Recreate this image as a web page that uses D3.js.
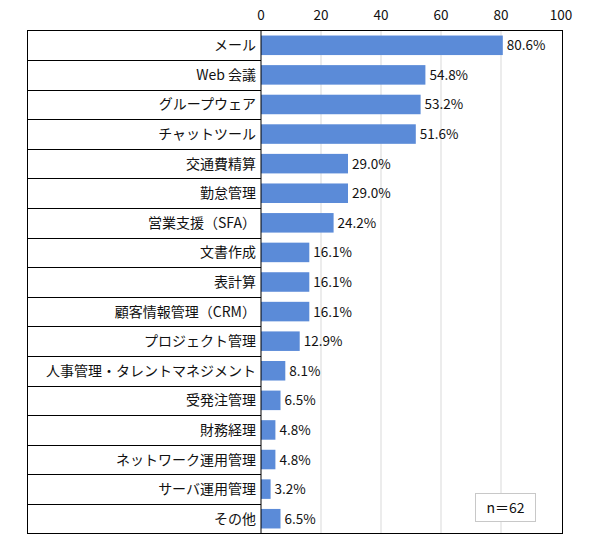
<!DOCTYPE html>
<html>
<head>
<meta charset="utf-8">
<script src="https://cdn.jsdelivr.net/npm/d3@7"></script>
<style>
  body { margin: 0; background: #fff; }
  text { font-family: "Noto Sans CJK JP", "Noto Sans", sans-serif; fill: #111; }
</style>
</head>
<body>
<div id="chart"></div>
<script>
// Data
const categories = [
  "メール", "Web 会議", "グループウェア", "チャットツール", "交通費精算",
  "勤怠管理", "営業支援（SFA）", "文書作成", "表計算", "顧客情報管理（CRM）",
  "プロジェクト管理", "人事管理・タレントマネジメント", "受発注管理", "財務経理",
  "ネットワーク運用管理", "サーバ運用管理", "その他"
];
const values = [80.6, 54.8, 53.2, 51.6, 29.0, 29.0, 24.2, 16.1, 16.1, 16.1,
  12.9, 8.1, 6.5, 4.8, 4.8, 3.2, 6.5];
const ticks = [0, 20, 40, 60, 80, 100];
const sampleNote = "n＝62";

// Layout
const width = 590, height = 549;
const tableLeft = 27.5;
const plotLeft = 261, plotRight = 562.5;
const plotTop = 30.5, plotBottom = 533.5;
const barColor = "#5b8bd8";

const svg = d3.select("#chart").append("svg")
  .attr("width", width)
  .attr("height", height);

const x = d3.scaleLinear().domain([0, 100]).range([plotLeft, plotRight - 1.5]);
const y = d3.scaleBand().domain(categories).range([plotTop, plotBottom]).paddingInner(0.34).paddingOuter(0.17);
const rowY = d3.scaleBand().domain(categories).range([plotTop, plotBottom]);

// vertical gridlines
svg.append("g")
  .selectAll("line")
  .data(ticks.slice(1, -1))
  .join("line")
  .attr("x1", d => x(d)).attr("x2", d => x(d))
  .attr("y1", plotTop).attr("y2", plotBottom)
  .attr("stroke", "#d9d9d9")
  .attr("stroke-width", 1);

// top axis tick labels
svg.append("g")
  .selectAll("text")
  .data(ticks)
  .join("text")
  .attr("x", d => x(d))
  .attr("y", 20)
  .attr("text-anchor", "middle")
  .style("font-size", "13.5px")
  .text(d => d);

// bars
svg.append("g")
  .selectAll("rect")
  .data(values)
  .join("rect")
  .attr("x", x(0))
  .attr("y", (d, i) => y(categories[i]))
  .attr("width", d => x(d) - x(0))
  .attr("height", y.bandwidth())
  .attr("fill", barColor);

// value labels
svg.append("g")
  .selectAll("text")
  .data(values)
  .join("text")
  .attr("x", d => x(d) + 4)
  .attr("y", (d, i) => rowY(categories[i]) + rowY.bandwidth() / 2 + 5)
  .style("font-size", "13.5px")
  .text(d => d.toFixed(1) + "%");

// category labels in the table
svg.append("g")
  .selectAll("text")
  .data(categories)
  .join("text")
  .attr("x", plotLeft - 5)
  .attr("y", d => rowY(d) + rowY.bandwidth() / 2 + 5)
  .attr("text-anchor", "end")
  .style("font-size", "14px")
  .text(d => d);

// table row lines
svg.append("g")
  .selectAll("line")
  .data(categories.slice(1))
  .join("line")
  .attr("x1", tableLeft).attr("x2", plotLeft)
  .attr("y1", d => Math.round(rowY(d)) + 0.5).attr("y2", d => Math.round(rowY(d)) + 0.5)
  .attr("stroke", "#000");

// outer frame
const frame = svg.append("g").attr("stroke", "#000").attr("fill", "none");
frame.append("rect")
  .attr("x", tableLeft).attr("y", plotTop)
  .attr("width", plotRight - tableLeft).attr("height", plotBottom - plotTop);
frame.append("line")
  .attr("x1", plotLeft).attr("x2", plotLeft)
  .attr("y1", plotTop).attr("y2", plotBottom);

// sample size box
const note = svg.append("g").attr("transform", "translate(475.5,493.5)");
note.append("rect")
  .attr("width", 60).attr("height", 28)
  .attr("fill", "#fff")
  .attr("stroke", "#c8c8c8");
note.append("text")
  .attr("x", 30).attr("y", 19)
  .attr("text-anchor", "middle")
  .style("font-size", "14px")
  .text(sampleNote);
</script>
</body>
</html>
